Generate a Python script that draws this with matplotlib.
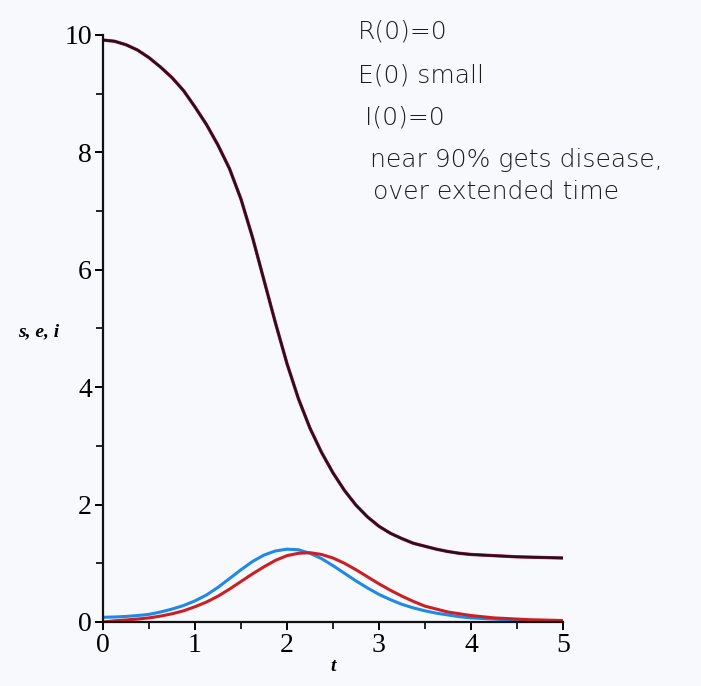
import matplotlib.pyplot as plt
from matplotlib.ticker import MultipleLocator

# values, every 0.125 in t
t = [0.0, 0.125, 0.25, 0.375, 0.5, 0.625, 0.75, 0.875,
     1.0, 1.125, 1.25, 1.375, 1.5, 1.625, 1.75, 1.875,
     2.0, 2.125, 2.25, 2.375, 2.5, 2.625, 2.75, 2.875,
     3.0, 3.125, 3.25, 3.375, 3.5, 3.625, 3.75, 3.875,
     4.0, 4.125, 4.25, 4.375, 4.5, 4.625, 4.75, 4.875, 5.0]
s_vals = [9.91, 9.89, 9.83, 9.74, 9.61, 9.45, 9.27, 9.05,
          8.77, 8.47, 8.12, 7.72, 7.20, 6.55, 5.82, 5.09,
          4.40, 3.80, 3.30, 2.89, 2.54, 2.24, 1.99, 1.79,
          1.63, 1.51, 1.42, 1.34, 1.29, 1.24, 1.20, 1.17,
          1.15, 1.14, 1.13, 1.12, 1.11, 1.105, 1.10, 1.095, 1.09]
e_vals = [0.08, 0.085, 0.095, 0.11, 0.13, 0.17, 0.22, 0.28,
          0.36, 0.46, 0.59, 0.74, 0.89, 1.03, 1.14, 1.21,
          1.24, 1.23, 1.17, 1.08, 0.96, 0.83, 0.70, 0.58,
          0.47, 0.38, 0.30, 0.24, 0.19, 0.15, 0.12, 0.09,
          0.07, 0.06, 0.05, 0.04, 0.03, 0.02, 0.02, 0.01, 0.01]
i_vals = [0.0, 0.02, 0.035, 0.05, 0.07, 0.10, 0.14, 0.19,
          0.26, 0.34, 0.44, 0.56, 0.69, 0.82, 0.94, 1.05,
          1.13, 1.17, 1.18, 1.15, 1.09, 1.00, 0.89, 0.77,
          0.65, 0.54, 0.44, 0.35, 0.27, 0.22, 0.17, 0.14,
          0.11, 0.09, 0.07, 0.06, 0.05, 0.04, 0.035, 0.03, 0.025]

notes = ["R(0)=0", "E(0) small", "I(0)=0",
         "near 90% gets disease,", "over extended time"]

bg = "#f8f9fc"
plt.rcParams["font.family"] = "Liberation Serif"

fig = plt.figure(figsize=(7.01, 6.86), dpi=100, facecolor=bg)
ax = fig.add_axes([0.147, 0.0933, 0.656, 0.856])
ax.set_facecolor(bg)

ax.plot(t, e_vals, color="#1f8ae6", lw=2.2)
ax.plot(t, i_vals, color="#cc1f24", lw=2.2)
# S curve: red under dark line gives the reddish fringe
ax.plot(t, s_vals, color="#cc1f24", lw=2.4)
ax.plot(t, s_vals, color="#22102a", lw=1.8)

ax.set_xlim(0, 5)
ax.set_ylim(0, 10)
for side in ["top", "right"]:
    ax.spines[side].set_visible(False)
for side in ["left", "bottom"]:
    ax.spines[side].set_linewidth(1.6)
    ax.spines[side].set_color("#111111")

ax.xaxis.set_major_locator(MultipleLocator(1))
ax.xaxis.set_minor_locator(MultipleLocator(0.5))
ax.yaxis.set_major_locator(MultipleLocator(2))
ax.yaxis.set_minor_locator(MultipleLocator(1))
ax.tick_params(which="major", length=6, width=1.4, labelsize=20, pad=2)
ax.tick_params(which="minor", length=5, width=1.2)

ax.set_xlabel("t", fontsize=14, fontstyle="italic", fontweight="bold", labelpad=0)
ax.set_ylabel("s, e, i", fontsize=14, fontstyle="italic", fontweight="bold",
              rotation=0)
ax.yaxis.set_label_coords(-0.14, 0.48)

# handwritten notes, top right
xs = [358, 358, 365, 370, 373]
ys = [32, 75, 118, 160, 192]
for line, xp, yp in zip(notes, xs, ys):
    fig.text(xp / 701, 1 - yp / 686, line, fontsize=18, color="#1c1c1c",
             family="DejaVu Sans", fontweight="light", ha="left", va="center")

fig.savefig("out.png", dpi=100, facecolor=bg)
